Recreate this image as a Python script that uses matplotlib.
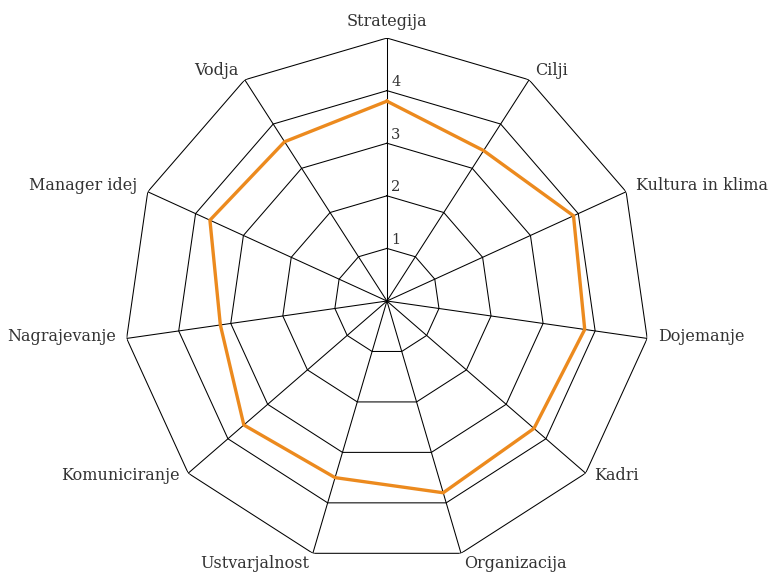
import numpy as np
import matplotlib
matplotlib.use("Agg")
import matplotlib.pyplot as plt

categories = ["Strategija", "Cilji", "Kultura in klima", "Dojemanje", "Kadri",
              "Organizacija", "Ustvarjalnost", "Komuniciranje", "Nagrajevanje",
              "Manager idej", "Vodja"]
values = [3.8, 3.4, 3.9, 3.8, 3.7, 3.8, 3.5, 3.6, 3.2, 3.7, 3.6]
ring_levels = [1, 2, 3, 4, 5]
tick_labels = ["1", "2", "3", "4"]

plt.rcParams['font.family'] = ['DejaVu Serif']

n = len(categories)
angles = np.linspace(0, 2 * np.pi, n, endpoint=False)

fig = plt.figure(figsize=(7.7, 5.74), dpi=100)
ax = fig.add_axes([0.161, 0.0174, 0.683, 0.9164], projection='polar')
ax.set_theta_offset(np.pi / 2)
ax.set_theta_direction(-1)
ax.set_ylim(0, 5)
ax.axis('off')

closed = np.append(angles, angles[0])
for lv in ring_levels:
    ax.plot(closed, [lv] * (n + 1), color='black', lw=0.75, zorder=1)
for a in angles:
    ax.plot([a, a], [0, 5], color='black', lw=0.75, zorder=1)

ax.plot(closed, values + [values[0]], color='#EC8A1E', lw=2.4, zorder=3,
        solid_joinstyle='miter')

for lv, t in zip(ring_levels, tick_labels):
    ax.annotate(t, xy=(0, lv), xytext=(3, 1), textcoords='offset points',
                ha='left', va='bottom', fontsize=10.5, color='#333333')

for a, c in zip(angles, categories):
    s, co = np.sin(a), np.cos(a)
    if abs(s) < 0.1:
        ha = 'center'
    elif s > 0:
        ha = 'left'
    else:
        ha = 'right'
    if co > 0.9:
        va = 'bottom'
        dy = 6
    elif co < -0.9:
        va = 'top'
        dy = -1
    else:
        va = 'center'
        dy = 6 * co + 2
    dx = 8 * s
    ax.annotate(c, xy=(a, 5), xytext=(dx, dy), textcoords='offset points',
                ha=ha, va=va, fontsize=11.5, color='#333333',
                annotation_clip=False)

fig.savefig("out.png", dpi=100)
